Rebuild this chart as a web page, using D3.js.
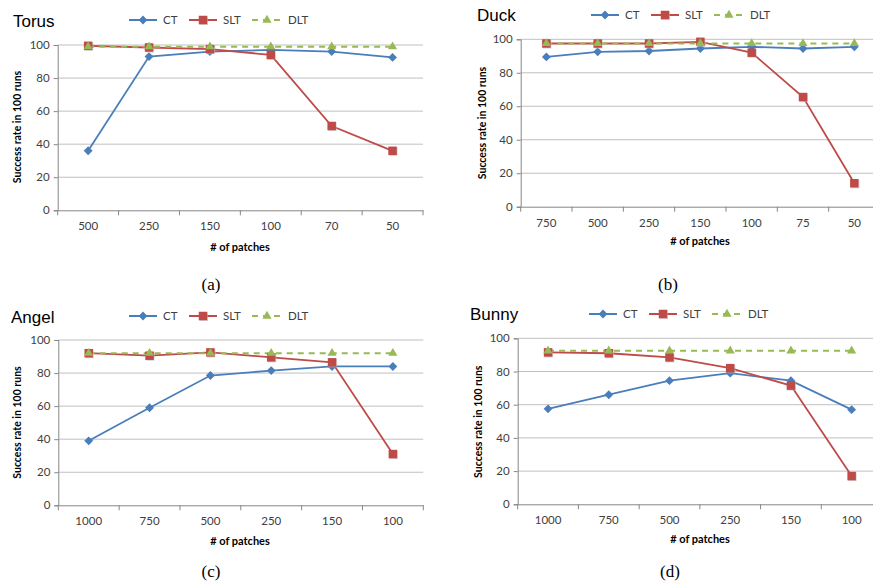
<!DOCTYPE html>
<html><head><meta charset="utf-8">
<script src="https://cdn.jsdelivr.net/npm/d3@7"></script>
<style>
body{margin:0;background:#fff;}
svg{display:block;}
.tick text{font-family:Lato,"Open Sans",sans-serif;font-size:11.5px;fill:#404040;}
</style></head>
<body>
<svg id="c" width="873" height="587"></svg>
<script>
// ---- data ----
const seriesNames = ["CT","SLT","DLT"];
const torusCats = ["500","250","150","100","70","50"];
const torusCT  = [36,93,96,97,96,92.5];
const torusSLT = [99.5,98.5,97.5,94,51,36];
const torusDLT = [99,99,99,99,99,99];
const duckCats = ["750","500","250","150","100","75","50"];
const duckCT  = [89.5,92.5,93,94.5,95.5,94.5,95.5];
const duckSLT = [97.5,97.5,97.5,98.5,92,65.5,14];
const duckDLT = [97.5,97.5,97.5,97.5,97.5,97.5,97.5];
const angelCats = ["1000","750","500","250","150","100"];
const angelCT  = [39,59,78.5,81.5,84,84];
const angelSLT = [92,90.5,92.5,89.5,86.5,31];
const angelDLT = [92,92,92,92,92,92];
const bunnyCats = ["1000","750","500","250","150","100"];
const bunnyCT  = [57.5,66,74.5,79,74.5,57];
const bunnySLT = [91.5,91,88.5,82,71.5,17];
const bunnyDLT = [92.5,92.5,92.5,92.5,92.5,92.5];
const yTicks = [0,20,40,60,80,100];
const titles = ["Torus","Duck","Angel","Bunny"];
const captions = ["(a)","(b)","(c)","(d)"];

const colors = {CT:"#4a7ebb", SLT:"#be4b48", DLT:"#98b954"};
const svg = d3.select("#c");

const panels = [
 {cats:torusCats, vals:[torusCT,torusSLT,torusDLT], L:57.7, R:423, T:45, B:210.3, tx:13, ty:27, ly:20, lx:129, ylx:17, yly:127, xly:247, xlx:240, cx:211, cy:290},
 {cats:duckCats, vals:[duckCT,duckSLT,duckDLT], L:520.7, R:880, T:39.3, B:206.7, tx:477, ty:21, ly:15, lx:591, ylx:482, yly:123, xly:241, xlx:700, cx:668, cy:290},
 {cats:angelCats, vals:[angelCT,angelSLT,angelDLT], L:58.3, R:423.3, T:340, B:505.3, tx:11, ty:323, ly:316, lx:129, ylx:17, yly:422.5, xly:540.7, xlx:240, cx:211, cy:577},
 {cats:bunnyCats, vals:[bunnyCT,bunnySLT,bunnyDLT], L:517.7, R:882, T:338.3, B:504.3, tx:470, ty:320, ly:314, lx:589, ylx:478, yly:421.7, xly:539, xlx:700, cx:670, cy:577}
];

function marker(g, name, x, y){
  const c = colors[name];
  if(name==="CT"){
    g.append("path").attr("d", d3.symbol(d3.symbolDiamond2, 50)()).attr("transform",`translate(${x},${y})`).attr("fill",c);
  } else if(name==="SLT"){
    g.append("rect").attr("x",x-4.25+0.8).attr("y",y-4.25+0.8).attr("width",8.5).attr("height",8.5).attr("fill","#bbb").attr("opacity",0.6);
    g.append("rect").attr("x",x-4.25).attr("y",y-4.25).attr("width",8.5).attr("height",8.5).attr("fill",c);
  } else {
    g.append("path").attr("d", d3.symbol(d3.symbolTriangle, 36)()).attr("transform",`translate(${x},${y})`).attr("fill",c);
  }
}

panels.forEach((p,i)=>{
  const g = svg.append("g");
  const x = d3.scaleBand().domain(p.cats).range([p.L,p.L+(p.R-p.L)]);
  const y = d3.scaleLinear().domain([0,100]).range([p.B,p.T]);
  // gridlines
  g.append("g").selectAll("line").data(yTicks.filter(t=>t>0)).join("line")
    .attr("x1",p.L).attr("x2",p.R).attr("y1",d=>y(d)).attr("y2",d=>y(d))
    .attr("stroke","#c0c0c0").attr("stroke-width",1);
  // y axis
  const ya = g.append("g").attr("transform",`translate(${p.L},0)`)
    .call(d3.axisLeft(y).tickValues(yTicks).tickSize(4).tickPadding(4));
  ya.selectAll("path,line").attr("stroke","#868686");
  // x axis
  const xa = g.append("g").attr("transform",`translate(0,${p.B})`)
    .call(d3.axisBottom(x).tickSize(0).tickPadding(12));
  xa.selectAll("path").attr("stroke","#868686");
  // category boundary ticks
  g.append("g").selectAll("line").data(p.cats).join("line")
    .attr("x1",d=>x(d)+x.bandwidth()).attr("x2",d=>x(d)+x.bandwidth())
    .attr("y1",p.B).attr("y2",p.B+5).attr("stroke","#868686");
  g.append("line").attr("x1",p.L).attr("x2",p.L).attr("y1",p.B).attr("y2",p.B+5).attr("stroke","#868686");
  // series
  seriesNames.forEach((s,k)=>{
    const vals = p.vals[k];
    const line = d3.line().x((d,j)=>x(p.cats[j])+x.bandwidth()/2).y(d=>y(d));
    g.append("path").datum(vals).attr("d",line).attr("fill","none")
      .attr("stroke",colors[s]).attr("stroke-width",s==="DLT"?2:1.8)
      .attr("stroke-dasharray",s==="DLT"?"6,5":null);
  });
  seriesNames.forEach((s,k)=>{
    const vals = p.vals[k];
    vals.forEach((v,j)=> marker(g, s, x(p.cats[j])+x.bandwidth()/2, y(v)));
  });
  // title
  g.append("text").attr("x",p.tx).attr("y",p.ty).text(titles[i])
    .attr("font-family","Liberation Sans, Arial, sans-serif").attr("font-size",17).attr("fill","#000");
  // legend
  const offs=[0,60,123];
  seriesNames.forEach((s,k)=>{
    const lx = p.lx+offs[k];
    const len = s==="DLT"?30:28;
    g.append("line").attr("x1",lx).attr("x2",lx+len).attr("y1",p.ly).attr("y2",p.ly)
      .attr("stroke",colors[s]).attr("stroke-width",2).attr("stroke-dasharray",s==="DLT"?"6,5":null);
    marker(g,s,lx+len/2,p.ly);
    g.append("text").attr("x",lx+len+6).attr("y",p.ly).attr("dy","0.36em").text(s)
      .attr("font-family","Lato, 'Open Sans', sans-serif").attr("font-size",11.5).attr("fill","#404040");
  });
  // axis titles
  g.append("text").attr("transform",`translate(${p.ylx},${p.yly}) rotate(-90)`).attr("text-anchor","middle")
    .attr("dy","0.36em").text("Success rate in 100 runs")
    .attr("font-family","Lato, 'Open Sans', sans-serif").attr("font-size",10.5).attr("font-weight","bold").attr("fill","#000");
  g.append("text").attr("x",p.xlx).attr("y",p.xly).attr("dy","0.36em").attr("text-anchor","middle").text("# of patches")
    .attr("font-family","Lato, 'Open Sans', sans-serif").attr("font-size",11).attr("font-weight","bold").attr("fill","#000");
  // caption
  svg.append("text").attr("x",p.cx).attr("y",p.cy).attr("text-anchor","middle").text(captions[i])
    .attr("font-family","Liberation Serif, 'Times New Roman', serif").attr("font-size",17).attr("fill","#000");
});
</script>
</body></html>
